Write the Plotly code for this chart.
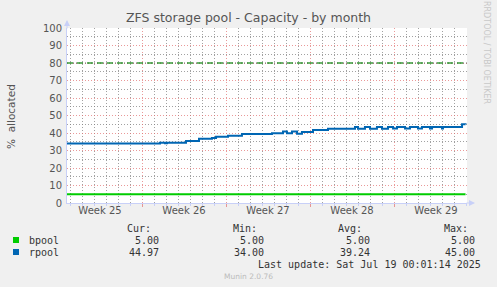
import plotly.graph_objects as go

# ---- data (x = days relative to Monday of week 26) ----
week_labels = ["Week 25", "Week 26", "Week 27", "Week 28", "Week 29"]
week_label_days = [-3.5, 3.5, 10.5, 17.5, 24.5]

bpool_days = [-6.25, 26.96]
bpool_values = [5.0, 5.0]

rpool_days = [-6.25, 1.5, 1.92, 2.08, 3.67, 4.75, 5.83, 6.17, 7.17, 8.33, 10.83,
              11.75, 12.08, 12.5, 12.92, 13.33, 14.25, 15.5, 17.75, 18.0, 18.58,
              19.0, 19.58, 20.0, 20.5, 20.92, 21.25, 21.92, 22.33, 23.0, 23.33,
              24.0, 24.17, 25.0, 25.08, 26.67, 26.96]
rpool_values = [34.0, 34.5, 34.1, 34.5, 35.5, 36.7, 37.2, 37.9, 38.5, 39.5, 39.8,
                40.8, 39.8, 40.8, 39.6, 40.6, 41.7, 42.5, 43.5, 42.5, 43.5,
                42.5, 43.5, 42.5, 43.5, 42.6, 43.5, 42.6, 43.5, 42.6, 43.5,
                42.6, 43.5, 42.6, 43.5, 45.0, 44.97]

warning_days = [-6.25, 27.08]
warning_values = [80, 80]

series_names = ["bpool", "rpool"]
series_colors = ["#00cc00", "#0066b3"]
stat_headers = ["Cur:", "Min:", "Avg:", "Max:"]
stats = {"bpool": ["5.00", "5.00", "5.00", "5.00"],
         "rpool": ["44.97", "34.00", "39.24", "45.00"]}

X_RANGE = [-6.25, 27.083]
Y_RANGE = [0, 100]

# ---- layout geometry ----
W, H = 497, 287
L, R, T, B = 67, 467, 28, 203


def px(x):
    return (x - L) / (R - L)


def py(y):
    return (B - y) / (B - T)


fig = go.Figure()
fig.add_trace(go.Scatter(x=warning_days, y=warning_values, mode="lines",
                         line=dict(color="#666666", width=1, dash="1px,2px"),
                         hoverinfo="skip", showlegend=False))
fig.add_trace(go.Scatter(x=warning_days, y=warning_values, mode="lines",
                         line=dict(color="#3a9a3a", width=1.3, dash="6px,4px"),
                         hoverinfo="skip", showlegend=False))
fig.add_trace(go.Scatter(x=bpool_days, y=bpool_values, mode="lines",
                         line=dict(color=series_colors[0], width=2, shape="hv"),
                         name="bpool", showlegend=False))
fig.add_trace(go.Scatter(x=rpool_days, y=rpool_values, mode="lines",
                         line=dict(color=series_colors[1], width=2, shape="hv"),
                         name="rpool", showlegend=False))
# invisible trace for label axis
fig.add_trace(go.Scatter(x=week_label_days, y=[None] * 5, xaxis="x2",
                         mode="lines", showlegend=False, hoverinfo="skip"))

AXC = "#c8d0f8"
MAJ = "rgba(225,110,110,0.7)"
MIN = "rgba(130,130,130,0.75)"
DASH = "1px,2px"

fig.update_layout(
    width=W, height=H,
    margin=dict(l=L, r=W - R, t=T, b=H - B),
    paper_bgcolor="#f0f0f0", plot_bgcolor="#ffffff",
    font=dict(family="DejaVu Sans", color="#555555"),
    xaxis=dict(range=X_RANGE, tick0=0, dtick=7, showgrid=True,
               gridcolor=MAJ, griddash=DASH, gridwidth=1,
               showticklabels=False, ticks="outside", ticklen=3,
               tickcolor=MAJ, zeroline=False, showline=True,
               linecolor=AXC, linewidth=1,
               minor=dict(dtick=1, tick0=0, showgrid=True, gridcolor=MIN,
                          griddash=DASH, gridwidth=1, ticks="outside",
                          ticklen=2, tickcolor=AXC)),
    xaxis2=dict(range=X_RANGE, overlaying="x", anchor="y", side="bottom",
                tickvals=week_label_days, ticktext=week_labels,
                showgrid=False, zeroline=False, showline=False, ticks="",
                tickfont=dict(size=10, color="#555555")),
    yaxis=dict(range=Y_RANGE, tick0=0, dtick=10, showgrid=True,
               gridcolor=MAJ, griddash=DASH, gridwidth=1,
               ticks="", zeroline=False, showline=True, linecolor=AXC,
               linewidth=1, tickfont=dict(size=10, color="#555555"),
               ticklabelstandoff=2,
               minor=dict(dtick=5, tick0=0, showgrid=True, gridcolor=MIN,
                          griddash=DASH, gridwidth=1)),
)

ann = []
ann.append(dict(text="ZFS storage pool - Capacity - by month", x=px(248), y=py(18),
                xref="paper", yref="paper", showarrow=False,
                font=dict(size=12.5, color="#555555"), xanchor="center", yanchor="middle"))
ann.append(dict(text="%  allocated", x=px(11), y=py(116), xref="paper", yref="paper",
                showarrow=False, textangle=-90, font=dict(size=10.5, color="#555555"),
                xanchor="center", yanchor="middle"))
ann.append(dict(text="RRDTOOL / TOBI OETIKER", x=px(487), y=py(52), xref="paper",
                yref="paper", showarrow=False, textangle=90,
                font=dict(size=8, color="#c8c8c8"), xanchor="center", yanchor="middle"))
ann.append(dict(text="", x=px(L), y=py(20), xref="paper", yref="paper", showarrow=True,
                ax=0, ay=10, arrowhead=2, arrowsize=1.2, arrowwidth=1, arrowcolor=AXC))
ann.append(dict(text="", x=px(475), y=py(B), xref="paper", yref="paper", showarrow=True,
                ax=-10, ay=0, arrowhead=2, arrowsize=1.2, arrowwidth=1, arrowcolor=AXC))

mono = "DejaVu Sans Mono"
header_right = [153, 259, 364, 470]
value_right = [161, 266, 372, 477]
ann_y = {"hdr": 228, "bpool": 240, "rpool": 252}
for h, xr in zip(stat_headers, header_right):
    ann.append(dict(text=h, x=px(xr), y=py(ann_y["hdr"]), xref="paper", yref="paper",
                    showarrow=False, xanchor="right", yanchor="middle",
                    font=dict(family=mono, size=10, color="#333333")))
shapes = []
for name, col in zip(series_names, series_colors):
    yy = ann_y[name]
    shapes.append(dict(type="rect", xref="paper", yref="paper",
                       x0=px(13), x1=px(19), y0=py(yy - 3), y1=py(yy + 3),
                       fillcolor=col, line=dict(width=0)))
    ann.append(dict(text=name, x=px(27), y=py(yy), xref="paper", yref="paper",
                    showarrow=False, xanchor="left", yanchor="middle",
                    font=dict(family=mono, size=10, color="#333333")))
    for v, xr in zip(stats[name], value_right):
        ann.append(dict(text=v, x=px(xr), y=py(yy), xref="paper", yref="paper",
                        showarrow=False, xanchor="right", yanchor="middle",
                        font=dict(family=mono, size=10, color="#333333")))
ann.append(dict(text="Last update: Sat Jul 19 00:01:14 2025", x=px(483), y=py(264),
                xref="paper", yref="paper", showarrow=False, xanchor="right",
                yanchor="middle", font=dict(family=mono, size=10, color="#333333")))
ann.append(dict(text="Munin 2.0.76", x=px(248), y=py(276), xref="paper", yref="paper",
                showarrow=False, xanchor="center", yanchor="middle",
                font=dict(size=7.5, color="#bbbbbb")))

fig.update_layout(annotations=ann, shapes=shapes)
fig.write_html("out.html")
